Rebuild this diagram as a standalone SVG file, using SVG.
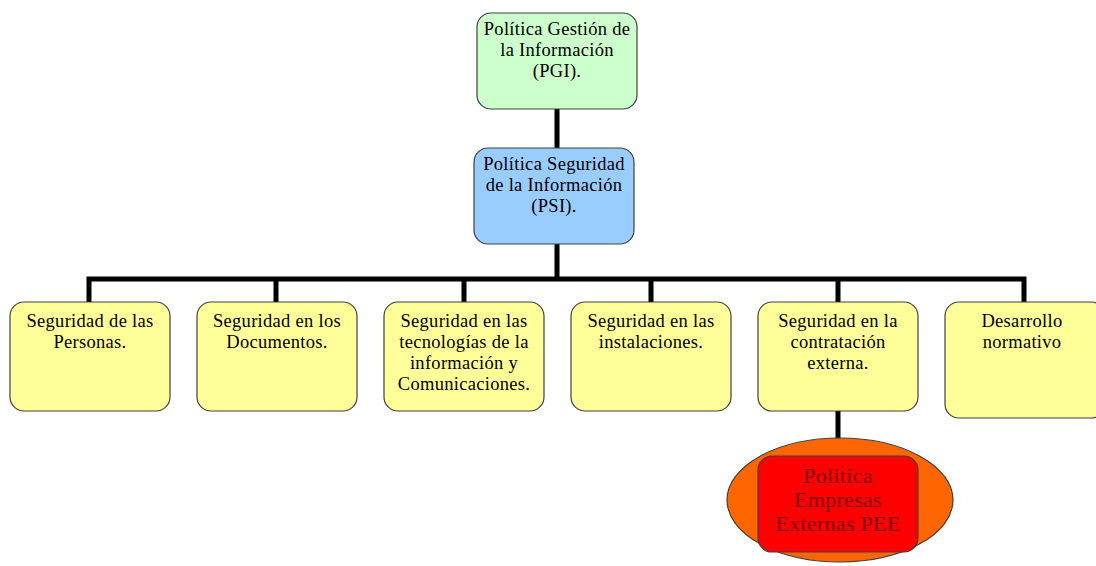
<svg xmlns="http://www.w3.org/2000/svg" width="1096" height="566" viewBox="0 0 1096 566">
<style>
.box{stroke:#404040;stroke-width:1.2}
.y{fill:#ffff99}
.t{font-family:"Liberation Serif","Times New Roman",serif;font-size:18.5px;letter-spacing:0.3px;fill:#000;text-anchor:middle}
.r{font-family:"Liberation Serif","Times New Roman",serif;font-size:22px;letter-spacing:0.3px;fill:#800000;text-anchor:middle}
.c{stroke:#000;stroke-width:5;fill:none}
</style>
<rect width="1096" height="566" fill="#fff"/>
<g id="connectors">
<path class="c" d="M557 109V148"/>
<path class="c" d="M557 244V279"/>
<path class="c" d="M89 302V279H1024V302"/>
<path class="c" d="M276 279V302M464 279V302M651 279V302M838 279V302"/>
<path class="c" d="M838 411V456"/>
</g>
<g id="pgi">
<rect class="box" x="477" y="13" width="160" height="96" rx="14" fill="#ccffcc"/>
<text class="t" x="557" y="35">Política Gestión de</text>
<text class="t" x="557" y="56">la Información</text>
<text class="t" x="557" y="77">(PGI).</text>
</g>
<g id="psi">
<rect class="box" x="474" y="148" width="160" height="96" rx="14" fill="#99ccff"/>
<text class="t" x="554" y="170">Política Seguridad</text>
<text class="t" x="554" y="191">de la Información</text>
<text class="t" x="554" y="212">(PSI).</text>
</g>
<g id="personas">
<rect class="box y" x="10" y="302" width="160" height="109" rx="14"/>
<text class="t" x="90" y="327">Seguridad de las</text>
<text class="t" x="90" y="348">Personas.</text>
</g>
<g id="documentos">
<rect class="box y" x="197" y="302" width="160" height="109" rx="14"/>
<text class="t" x="277" y="327">Seguridad en los</text>
<text class="t" x="277" y="348">Documentos.</text>
</g>
<g id="tic">
<rect class="box y" x="384" y="302" width="160" height="109" rx="14"/>
<text class="t" x="464" y="327">Seguridad en las</text>
<text class="t" x="464" y="348">tecnologías de la</text>
<text class="t" x="464" y="369">información y</text>
<text class="t" x="464" y="390">Comunicaciones.</text>
</g>
<g id="instalaciones">
<rect class="box y" x="571" y="302" width="160" height="109" rx="14"/>
<text class="t" x="651" y="327">Seguridad en las</text>
<text class="t" x="651" y="348">instalaciones.</text>
</g>
<g id="contratacion">
<rect class="box y" x="758" y="302" width="160" height="109" rx="14"/>
<text class="t" x="838" y="327">Seguridad en la</text>
<text class="t" x="838" y="348">contratación</text>
<text class="t" x="838" y="369">externa.</text>
</g>
<g id="desarrollo">
<rect class="box y" x="945" y="302" width="160" height="116" rx="14"/>
<text class="t" x="1022" y="327">Desarrollo</text>
<text class="t" x="1022" y="348">normativo</text>
</g>
<g id="pee">
<ellipse class="box" cx="840" cy="500" rx="113" ry="62" fill="#ff6600"/>
<rect class="box" x="758" y="456" width="160" height="96" rx="14" fill="#ff0000"/>
<text class="r" x="838" y="483">Politica</text>
<text class="r" x="838" y="507">Empresas</text>
<text class="r" x="838" y="531">Externas PEE</text>
</g>
</svg>
